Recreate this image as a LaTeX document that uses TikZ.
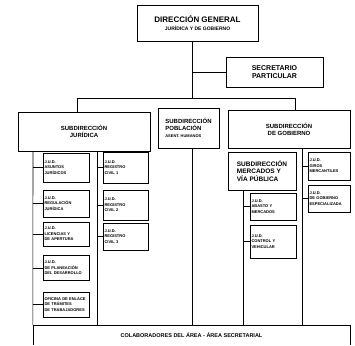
\documentclass[tikz,border=0pt]{standalone}
\usepackage{fontspec}
\setmainfont{Liberation Sans}
\usepackage{tikz}

\tikzset{
  orgbox/.style={draw, line width=0.6pt, align=center, inner sep=1pt, font=\bfseries\fontsize{6}{7}\selectfont},
  judbox/.style={draw, line width=0.6pt, align=left, text width=#1, inner sep=1.5pt, font=\bfseries\fontsize{4}{5.5}\selectfont},
  link/.style={line width=0.6pt}
}

\begin{document}
\begin{tikzpicture}[x=1pt, y=-1pt]
  \useasboundingbox (0,0) rectangle (355,345);
  % head and secretary
  \node[orgbox, minimum width=121pt, minimum height=36pt] (dg) at (197.5,23)
      {{\fontsize{8}{9}\selectfont DIRECCIÓN GENERAL}\\[1pt]{\fontsize{5}{6}\selectfont JURÍDICA Y DE GOBIERNO}};
  \node[orgbox, minimum width=97pt, minimum height=30pt, font=\bfseries\fontsize{7}{8}\selectfont] (sec) at (274.5,72)
      {SECRETARIO\\PARTICULAR};
  \coordinate (dgout) at (192,41);
  \coordinate (bus) at (192,98);
  \draw[link] (dgout) -- (bus);
  \draw[link] (dgout |- sec.west) -- (sec.west);

  % subdirections
  \node[orgbox, minimum width=132pt, minimum height=39pt] (jur) at (84,131.5)
      {SUBDIRECCIÓN\\JURÍDICA};
  \node[orgbox, minimum width=61pt, minimum height=40pt, align=left] (pob) at (188.5,128)
      {SUBDIRECCIÓN\\POBLACIÓN\\{\fontsize{4}{5}\selectfont ASENT. HUMANOS}};
  \node[orgbox, minimum width=122pt, minimum height=38pt] (gob) at (289,129)
      {SUBDIRECCIÓN\\DE GOBIERNO};
  \coordinate (busl) at (77,98);
  \coordinate (busr) at (295,98);
  \draw[link] (busl |- jur.north) -- (busl) -- (busr) -- (busr |- gob.north);
  \draw[link] (pob.north -| bus) -- (bus |- pob.north);

  % collaborators
  \node[minimum width=317pt, minimum height=19pt, font=\bfseries\fontsize{5.5}{6}\selectfont] (col) at (191.5,335)
      {COLABORADORES DEL ÁREA - ÁREA SECRETARIAL};
  \draw[link] (col.south west) -- (col.north west) -- (col.north east) -- (col.south east);

  % juridica, first column
  \node[judbox=43pt, minimum height=29pt] (j1) at (66,167.5) {J.U.D.\\ASUNTOS\\JURÍDICOS};
  \node[judbox=43pt, minimum height=27pt] (j2) at (66,203.5) {J.U.D.\\REGULACIÓN\\JURÍDICA};
  \node[judbox=43pt, minimum height=24pt] (j3) at (66,234) {J.U.D.\\LICENCIAS Y\\DE APERTURA};
  \node[judbox=43pt, minimum height=25pt] (j4) at (66,268) {J.U.D.\\DE PLANEACIÓN\\DEL DESARROLLO};
  \node[judbox=43pt, minimum height=25pt] (j5) at (66,304.5) {OFICINA DE ENLACE\\DE TRÁMITES\\DE TRABAJADORES};
  \coordinate (jl) at (33,0);
  \draw[link] (jur.south -| jl) -- (col.north west);
  \foreach \b in {j1,j2,j3,j4,j5}
    \draw[link] (\b.west -| jl) -- (\b.west);

  % juridica, second column
  \node[judbox=42pt, minimum height=31pt] (r1) at (125.5,167.5) {J.U.D.\\REGISTRO\\CIVIL 1};
  \node[judbox=42pt, minimum height=30pt] (r2) at (125.5,205) {J.U.D.\\REGISTRO\\CIVIL 2};
  \node[judbox=42pt, minimum height=27pt] (r3) at (125.5,236.5) {J.U.D.\\REGISTRO\\CIVIL 3};
  \coordinate (jr) at (97,0);
  \draw[link] (jur.south -| jr) -- (col.north -| jr);
  \foreach \b in {r1,r2,r3}
    \draw[link] (\b.west -| jr) -- (\b.west);

  % poblacion
  \draw[link] (pob.south -| bus) -- (col.north -| bus);

  % gobierno
  \node[orgbox, minimum width=68pt, minimum height=38pt, align=left, font=\bfseries\fontsize{6.5}{7.5}\selectfont] (mer) at (262,171)
      {SUBDIRECCIÓN\\MERCADOS Y\\VÍA PÚBLICA};
  \node[judbox=43pt, minimum height=27pt] (m1) at (273,206.5) {J.U.D.\\ABASTO Y\\MERCADOS};
  \node[judbox=43pt, minimum height=33pt] (m2) at (273,241.5) {J.U.D.\\CONTROL Y\\VEHICULAR};
  \coordinate (ml) at (243,0);
  \draw[link] (mer.south -| ml) -- (col.north -| ml);
  \foreach \b in {m1,m2}
    \draw[link] (\b.west -| ml) -- (\b.west);

  \node[judbox=39pt, minimum height=28pt] (g1) at (329,166) {J.U.D.\\GIROS\\MERCANTILES};
  \node[judbox=39pt, minimum height=27pt] (g2) at (329,198.5) {J.U.D.\\DE GOBIERNO\\ESPECIALIZADA};
  \coordinate (gl) at (302,0);
  \draw[link] (gob.south -| gl) -- (col.north -| gl);
  \foreach \b in {g1,g2}
    \draw[link] (\b.west -| gl) -- (\b.west);
\end{tikzpicture}
\end{document}
